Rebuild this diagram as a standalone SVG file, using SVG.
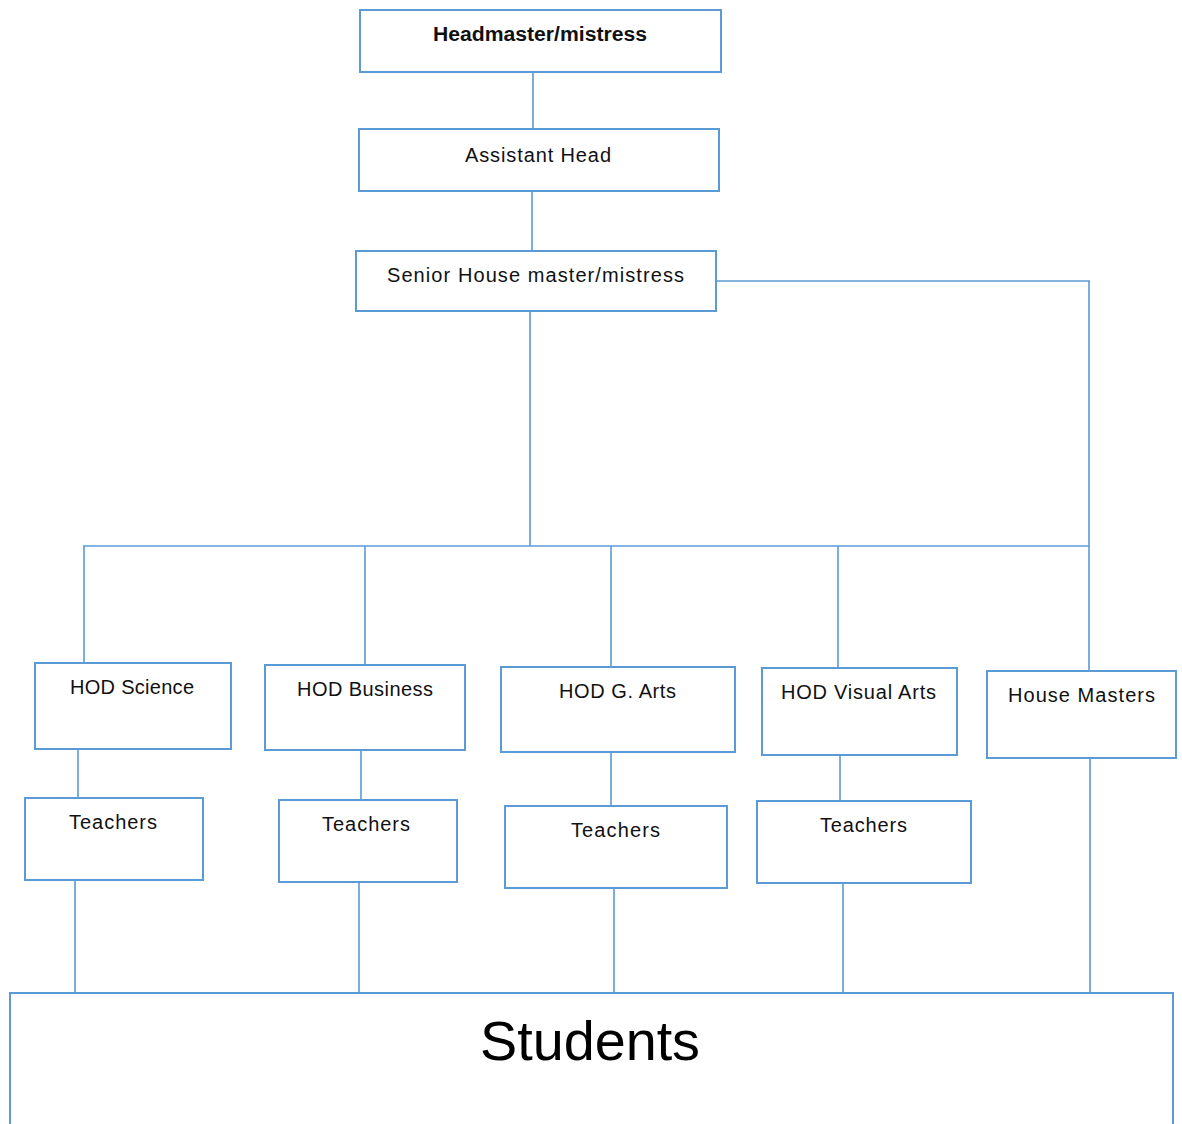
<svg xmlns="http://www.w3.org/2000/svg" width="1182" height="1124" viewBox="0 0 1182 1124">
  <style>
    .box { fill: #ffffff; stroke: #5b9bd5; stroke-width: 2; }
    .link { fill: none; stroke: #5b9bd5; stroke-width: 1.6; }
    .label { font-family: "Liberation Sans", Arial, sans-serif; font-size: 20px; fill: #111111; text-anchor: middle; }
    .bold { font-weight: bold; }
    .big { font-family: "Liberation Sans", Arial, sans-serif; font-size: 55px; fill: #000000; text-anchor: middle; }
  </style>
  <rect width="1182" height="1124" fill="#ffffff"/>

  <!-- connectors -->
  <g id="connectors">
    <path class="link" d="M533 72 V129"/>
    <path class="link" d="M532 191 V251"/>
    <path class="link" d="M716 281 H1090"/>
    <path class="link" d="M1089 281 V671"/>
    <path class="link" d="M530 311 V546"/>
    <path class="link" d="M83 546 H1089"/>
    <path class="link" d="M84 546 V663"/>
    <path class="link" d="M365 546 V665"/>
    <path class="link" d="M611 546 V667"/>
    <path class="link" d="M838 546 V668"/>
    <path class="link" d="M78 749 V798"/>
    <path class="link" d="M361 750 V800"/>
    <path class="link" d="M611 752 V806"/>
    <path class="link" d="M840 755 V801"/>
    <path class="link" d="M75 880 V992"/>
    <path class="link" d="M359 882 V993"/>
    <path class="link" d="M614 888 V993"/>
    <path class="link" d="M843 883 V996"/>
    <path class="link" d="M1090 758 V993"/>
  </g>

  <g id="head">
    <rect class="box" x="360" y="10" width="361" height="62"/>
    <text class="label bold" x="540" y="41" textLength="214" lengthAdjust="spacingAndGlyphs">Headmaster/mistress</text>
  </g>
  <g id="assistant-head">
    <rect class="box" x="359" y="129" width="360" height="62"/>
    <text class="label" x="538" y="162" textLength="146" lengthAdjust="spacing">Assistant Head</text>
  </g>
  <g id="senior-house">
    <rect class="box" x="356" y="251" width="360" height="60"/>
    <text class="label" x="535.5" y="282" textLength="297" lengthAdjust="spacing">Senior House master/mistress</text>
  </g>

  <g id="hod-science">
    <rect class="box" x="35" y="663" width="196" height="86"/>
    <text class="label" x="132" y="694" textLength="124" lengthAdjust="spacing">HOD Science</text>
  </g>
  <g id="hod-business">
    <rect class="box" x="265" y="665" width="200" height="85"/>
    <text class="label" x="365" y="696" textLength="136" lengthAdjust="spacing">HOD Business</text>
  </g>
  <g id="hod-g-arts">
    <rect class="box" x="501" y="667" width="234" height="85"/>
    <text class="label" x="617.5" y="698" textLength="117" lengthAdjust="spacing">HOD G. Arts</text>
  </g>
  <g id="hod-visual-arts">
    <rect class="box" x="762" y="668" width="195" height="87"/>
    <text class="label" x="858.5" y="699" textLength="155" lengthAdjust="spacing">HOD Visual Arts</text>
  </g>
  <g id="house-masters">
    <rect class="box" x="987" y="671" width="189" height="87"/>
    <text class="label" x="1081.5" y="702" textLength="147" lengthAdjust="spacing">House Masters</text>
  </g>

  <g id="teachers-science">
    <rect class="box" x="25" y="798" width="178" height="82"/>
    <text class="label" x="113" y="829" textLength="88" lengthAdjust="spacing">Teachers</text>
  </g>
  <g id="teachers-business">
    <rect class="box" x="279" y="800" width="178" height="82"/>
    <text class="label" x="366" y="831" textLength="88" lengthAdjust="spacing">Teachers</text>
  </g>
  <g id="teachers-g-arts">
    <rect class="box" x="505" y="806" width="222" height="82"/>
    <text class="label" x="615.5" y="837" textLength="89" lengthAdjust="spacing">Teachers</text>
  </g>
  <g id="teachers-visual-arts">
    <rect class="box" x="757" y="801" width="214" height="82"/>
    <text class="label" x="863.5" y="832" textLength="87" lengthAdjust="spacing">Teachers</text>
  </g>

  <!-- open-bottomed box running off the page -->
  <g id="students">
    <path class="box" d="M10 1130 V993 H1173 V1130"/>
    <text class="big" x="590" y="1060" textLength="220" lengthAdjust="spacingAndGlyphs">Students</text>
  </g>
</svg>
